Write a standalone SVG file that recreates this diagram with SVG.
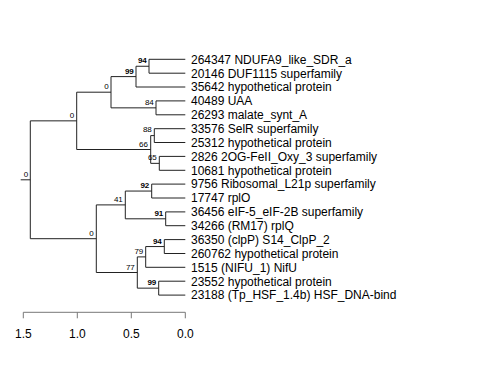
<svg xmlns="http://www.w3.org/2000/svg" width="480" height="384" viewBox="0 0 480 384">
<style>
.br{fill:none;stroke:#222;stroke-width:1}
.ax{fill:none;stroke:#777;stroke-width:1}
.leaf{font-family:"Liberation Sans",Arial,sans-serif;font-size:12px;fill:#000}
.bs{font-family:"Liberation Sans",Arial,sans-serif;font-size:8px;fill:#000;text-anchor:end}
.bsb{font-family:"Liberation Sans",Arial,sans-serif;font-size:8px;font-weight:bold;fill:#000;text-anchor:end}
.tk{font-family:"Liberation Sans",Arial,sans-serif;font-size:12px;fill:#000;text-anchor:middle}
</style>
<rect width="480" height="384" fill="#fff"/>
<g id="connectors">
<path class="br" d="M20.7 179.8H30.3M30.3 120.85V238.7M30.3 120.85H76.7M30.3 238.7H96.3
M76.7 92.2V149.5M76.7 92.2H111M76.7 149.5H150.7
M111 76.6V107.85M111 76.6H136M111 107.85H156
M136 66.25V87M136 66.25H149M136 87H185.3
M149 59.3V73.2M149 59.3H185.3M149 73.2H185.3
M156 100.9V114.8M156 100.9H185.3M156 114.8H185.3
M150.7 135.6V163.35M150.7 135.6H154.3M150.7 163.35H159.3
M154.3 128.7V142.5M154.3 128.7H185.3M154.3 142.5H185.3
M159.3 156.4V170.3M159.3 156.4H185.3M159.3 170.3H185.3
M96.3 204.9V272.5M96.3 204.9H125.3M96.3 272.5H137.3
M125.3 191.05V218.8M125.3 191.05H151.7M125.3 218.8H165.7
M151.7 184.1V198M151.7 184.1H185.3M151.7 198H185.3
M165.7 211.9V225.7M165.7 211.9H185.3M165.7 225.7H185.3
M137.3 256.9V288.15M137.3 256.9H145.7M137.3 288.15H158.7
M145.7 246.55V267.3M145.7 246.55H164.3M145.7 267.3H185.3
M164.3 239.6V253.5M164.3 239.6H185.3M164.3 253.5H185.3
M158.7 281.2V295.1M158.7 281.2H185.3M158.7 295.1H185.3"/>
</g>
<g id="leaves">
<g id="leaf-264347"><text class="leaf" x="191" y="63.6">264347 NDUFA9_like_SDR_a</text></g>
<g id="leaf-20146"><text class="leaf" x="191" y="77.5">20146 DUF1115 superfamily</text></g>
<g id="leaf-35642"><text class="leaf" x="191" y="91.3">35642 hypothetical protein</text></g>
<g id="leaf-40489"><text class="leaf" x="191" y="105.2">40489 UAA</text></g>
<g id="leaf-26293"><text class="leaf" x="191" y="119.1">26293 malate_synt_A</text></g>
<g id="leaf-33576"><text class="leaf" x="191" y="133">33576 SelR superfamily</text></g>
<g id="leaf-25312"><text class="leaf" x="191" y="146.8">25312 hypothetical protein</text></g>
<g id="leaf-2826"><text class="leaf" x="191" y="160.7">2826 2OG-FeII_Oxy_3 superfamily</text></g>
<g id="leaf-10681"><text class="leaf" x="191" y="174.6">10681 hypothetical protein</text></g>
<g id="leaf-9756"><text class="leaf" x="191" y="188.4">9756 Ribosomal_L21p superfamily</text></g>
<g id="leaf-17747"><text class="leaf" x="191" y="202.3">17747 rplO</text></g>
<g id="leaf-36456"><text class="leaf" x="191" y="216.2">36456 eIF-5_eIF-2B superfamily</text></g>
<g id="leaf-34266"><text class="leaf" x="191" y="230">34266 (RM17) rplQ</text></g>
<g id="leaf-36350"><text class="leaf" x="191" y="243.9">36350 (clpP) S14_ClpP_2</text></g>
<g id="leaf-260762"><text class="leaf" x="191" y="257.8">260762 hypothetical protein</text></g>
<g id="leaf-1515"><text class="leaf" x="191" y="271.6">1515 (NIFU_1) NifU</text></g>
<g id="leaf-23552"><text class="leaf" x="191" y="285.5">23552 hypothetical protein</text></g>
<g id="leaf-23188"><text class="leaf" x="191" y="299.4">23188 (Tp_HSF_1.4b) HSF_DNA-bind</text></g>
</g>
<g id="internal">
<g id="node-root"><text class="bs" x="28.3" y="177.3">0</text></g>
<g id="node-A"><text class="bs" x="74.3" y="118">0</text></g>
<g id="node-A1"><text class="bs" x="108.8" y="89.3">0</text></g>
<g id="node-99a"><text class="bsb" x="133.8" y="73.7">99</text></g>
<g id="node-94a"><text class="bsb" x="146.8" y="63.3">94</text></g>
<g id="node-84"><text class="bs" x="153.8" y="105">84</text></g>
<g id="node-66"><text class="bs" x="148" y="146.7">66</text></g>
<g id="node-88"><text class="bs" x="151.8" y="132">88</text></g>
<g id="node-65"><text class="bs" x="156.8" y="160">65</text></g>
<g id="node-B"><text class="bs" x="93.8" y="235.7">0</text></g>
<g id="node-41"><text class="bs" x="122.8" y="202">41</text></g>
<g id="node-92"><text class="bsb" x="149.3" y="188">92</text></g>
<g id="node-91"><text class="bsb" x="163.3" y="216">91</text></g>
<g id="node-77"><text class="bs" x="134.8" y="269.5">77</text></g>
<g id="node-79"><text class="bs" x="143.3" y="254">79</text></g>
<g id="node-94b"><text class="bsb" x="161.8" y="243.5">94</text></g>
<g id="node-99b"><text class="bsb" x="156.3" y="285.2">99</text></g>
</g>
<g id="scale">
<path class="ax" d="M23.3 312.3H185.3M23.3 312.3V318.3M77.3 312.3V318.3M131.3 312.3V318.3M185.3 312.3V318.3"/>
<text class="tk" x="23.3" y="338">1.5</text>
<text class="tk" x="77.3" y="338">1.0</text>
<text class="tk" x="131.3" y="338">0.5</text>
<text class="tk" x="185.3" y="338">0.0</text>
</g>
</svg>
